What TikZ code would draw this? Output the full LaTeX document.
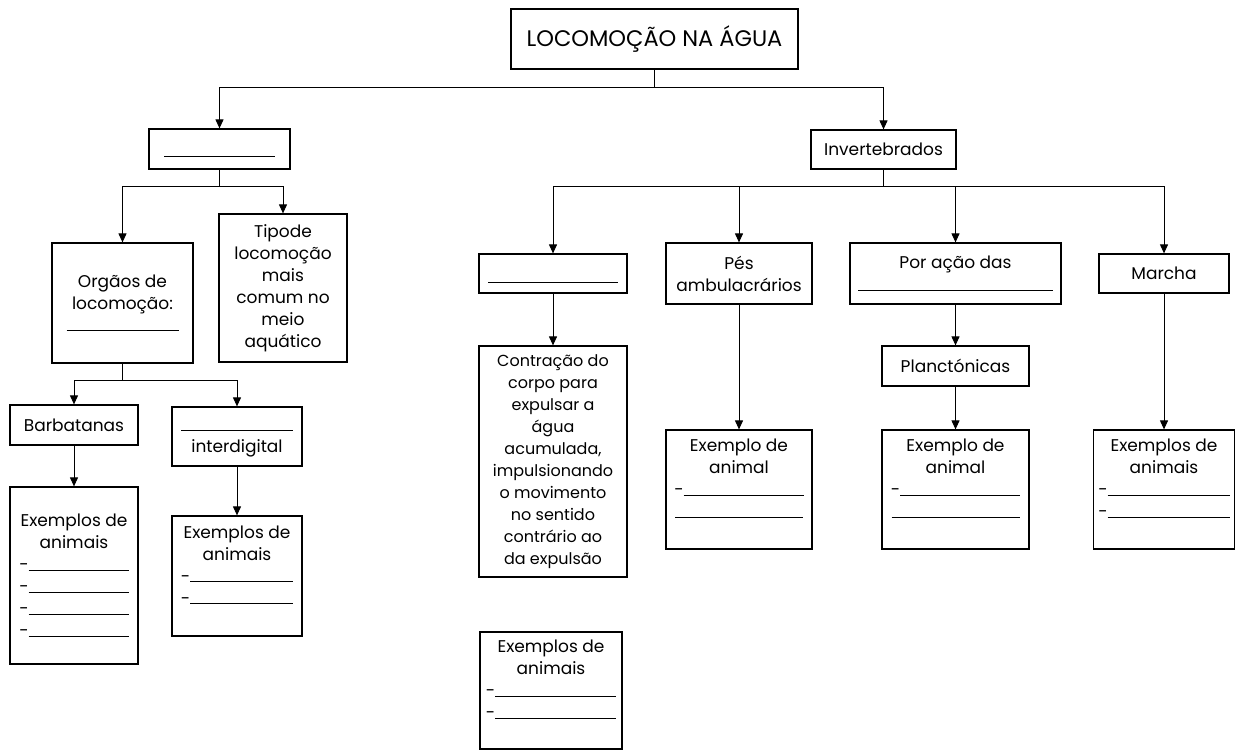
\documentclass[tikz,border=0pt]{standalone}
\usepackage{fontspec}
\setmainfont{Poppins}
\usetikzlibrary{arrows.meta}

\begin{document}
\begin{tikzpicture}[
        x=1pt, y=-1pt,
        >={Triangle[length=9pt,width=8pt]},
        line width=1pt,
        box/.style={draw, rectangle, line width=1.2pt, inner sep=0pt, align=center,
            font=\fontsize{17}{22}\selectfont},
        ]
        \useasboundingbox (0,0) rectangle (1241,751);

        \node (agua) [box, minimum width=287pt, minimum height=60pt, font=\fontsize{22.5}{26}\selectfont] at (654.5,39) {LOCOMOÇÃO NA ÁGUA};

        % left branch
        \node (vert) [box, minimum width=141pt, minimum height=40pt] at (219.5,149) {\rule[-16pt]{111pt}{0.9pt}};
        \node (orgaos) [box, minimum width=141pt, minimum height=120pt] at (122.5,303) {Orgãos de\\locomoção:\\\rule{112pt}{0.9pt}};
        \node (tipo) [box, minimum width=128pt, minimum height=148pt] at (283,288) {Tipode\\locomoção\\mais\\comum no\\meio\\aquático};
        \node (barb) [box, minimum width=128pt, minimum height=40pt] at (74,425) {Barbatanas};
        \node (interd) [box, minimum width=130pt, minimum height=59pt] at (237,436.5) {\strut\rule{112pt}{0.9pt}\\interdigital};
        \node (exbarb) [box, minimum width=128pt, minimum height=177pt] at (74,575.5) {Exemplos de\\animais\\-\rule{100pt}{0.9pt}\\-\rule{100pt}{0.9pt}\\-\rule{100pt}{0.9pt}\\-\rule{100pt}{0.9pt}};
        \node (exinterd) [box, minimum width=130pt, minimum height=120pt] at (237,576) {Exemplos de\\animais\\-\rule{103pt}{0.9pt}\\-\rule{103pt}{0.9pt}\\~};

        % right branch
        \node (invert) [box, minimum width=145pt, minimum height=39pt] at (883.5,149.5) {Invertebrados};
        \node (jato) [box, minimum width=148pt, minimum height=39pt] at (553,273.5) {\rule[-19pt]{130pt}{0.9pt}};
        \node (contr) [box, minimum width=148pt, minimum height=231pt, font=\fontsize{16}{22}\selectfont] at (553,461.5) {Contração do\\corpo para\\expulsar a\\água\\acumulada,\\impulsionando\\o movimento\\no sentido\\contrário ao\\da expulsão};
        \node (exjato) [box, minimum width=142pt, minimum height=117pt] at (551,690.5) {Exemplos de\\animais\\-\rule{121pt}{0.9pt}\\-\rule{121pt}{0.9pt}\\~};
        \node (pes) [box, minimum width=146pt, minimum height=61pt] at (739,273.5) {Pés\\ambulacrários};
        \node (expes) [box, minimum width=146pt, minimum height=119pt] at (739,489.5) {Exemplo de\\animal\\-\rule{120pt}{0.9pt}\\\rule{128pt}{0.9pt}\\~};
        \node (porac) [box, minimum width=211pt, minimum height=61pt] at (955.5,273.5) {Por ação das\\\rule{195pt}{0.9pt}};
        \node (planc) [box, minimum width=147pt, minimum height=40pt] at (955.5,366) {Planctónicas};
        \node (explanc) [box, minimum width=147pt, minimum height=119pt] at (955.5,489.5) {Exemplo de\\animal\\-\rule{120pt}{0.9pt}\\\rule{128pt}{0.9pt}\\~};
        \node (marcha) [box, minimum width=130pt, minimum height=39pt] at (1164,273.5) {Marcha};
        \node (exmarcha) [box, minimum width=141pt, minimum height=119pt] at (1164,489.5) {Exemplos de\\animais\\-\rule{122pt}{0.9pt}\\-\rule{122pt}{0.9pt}\\~};

        % elbow paths from each parent to its children
        \draw[->] (agua.south) -- ++(0,18) -| (vert.north);
        \draw[->] (agua.south) -- ++(0,18) -| (invert.north);
        \draw[->] (vert.south) -- ++(0,17) -| (orgaos.north);
        \draw[->] (vert.south) -- ++(0,17) -| (tipo.north);
        \draw[->] (orgaos.south) -- ++(0,17) -| (barb.north);
        \draw[->] (orgaos.south) -- ++(0,17) -| (interd.north);
        \draw[->] (invert.south) -- ++(0,17) -| (jato.north);
        \draw[->] (invert.south) -- ++(0,17) -| (pes.north);
        \draw[->] (invert.south) -- ++(0,17) -| (porac.north);
        \draw[->] (invert.south) -- ++(0,17) -| (marcha.north);

        % straight paths down
        \draw[->] (barb.south) -- (exbarb.north);
        \draw[->] (interd.south) -- (exinterd.north);
        \draw[->] (jato.south) -- (contr.north);
        \draw[->] (pes.south) -- (expes.north);
        \draw[->] (porac.south) -- (planc.north);
        \draw[->] (planc.south) -- (explanc.north);
        \draw[->] (marcha.south) -- (exmarcha.north);
    \end{tikzpicture}
\end{document}
